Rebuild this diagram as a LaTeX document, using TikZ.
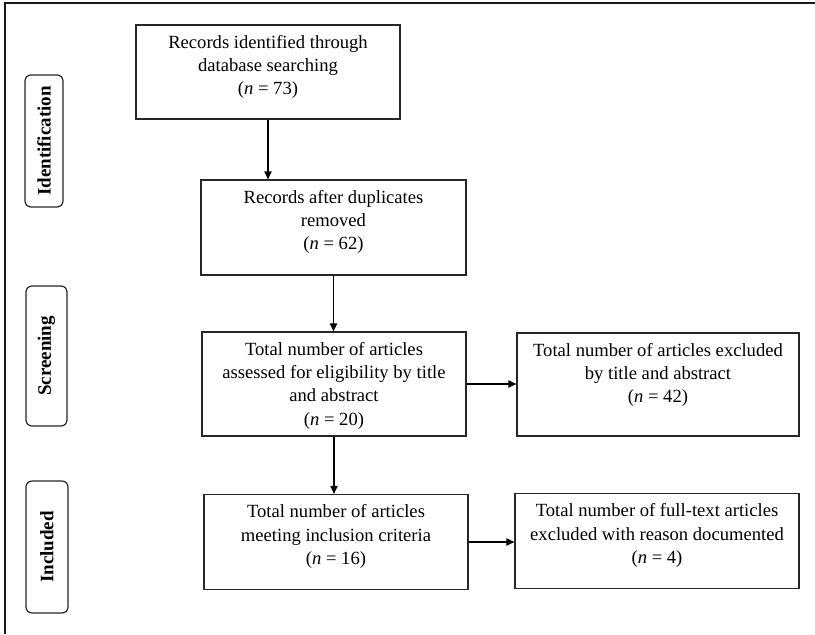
\documentclass[tikz,border=0pt]{standalone}
\usepackage{fontspec}
\setmainfont{Liberation Serif}
\usetikzlibrary{arrows.meta}
\newcommand{\boxtxt}[3]{\parbox[c][#2][t]{#1}{\centering\vspace*{5pt}#3}}
\tikzset{
  stage/.style={draw=black!85, line width=0.6pt, inner sep=0pt,
    font=\fontsize{9.3}{11.7}\selectfont},
  phase/.style={draw=black!85, line width=0.6pt, rounded corners=3pt,
    inner sep=0pt, rotate=90, font=\fontsize{9.5}{11}\selectfont\bfseries},
  flow/.style={-{Triangle[length=4pt,width=3.6pt]}, line width=0.65pt}
}
\begin{document}
\begin{tikzpicture}[x=0.5pt,y=-0.5pt]
\useasboundingbox (0,0) rectangle (815,634);
% frame
\draw[line width=0.8pt, black!90] (5,634) -- (5,3) -- (815,3);
% phases
\node[phase, minimum width=66pt, minimum height=19pt] (labId) at (44,141) {Identification};
\node[phase, minimum width=70pt, minimum height=20.5pt] (labScr) at (46.5,356) {Screening};
\node[phase, minimum width=66pt, minimum height=21pt] (labInc) at (47,547) {Included};
% boxes
\node[stage] (ident) at (268,72) {\boxtxt{132pt}{47pt}{Records identified through\\
  database searching\\ (\textit{n} = 73)}};
\node[stage] (dedup) at (333.5,227.5) {\boxtxt{132.5pt}{47.5pt}{Records after duplicates\\
  removed\\ (\textit{n} = 62)}};
\node[stage] (assessed) at (334,384) {\boxtxt{132pt}{52pt}{Total number of articles\\
  assessed for eligibility by title\\ and abstract\\ (\textit{n} = 20)}};
\node[stage] (excl1) at (658,384.5) {\boxtxt{141pt}{51.5pt}{Total number of articles excluded\\
  by title and abstract\\ (\textit{n} = 42)}};
\node[stage] (included) at (336,542) {\boxtxt{132pt}{47.5pt}{Total number of articles\\
  meeting inclusion criteria\\ (\textit{n} = 16)}};
\node[stage] (excl2) at (657,541) {\boxtxt{142pt}{47.5pt}{Total number of full-text articles\\
  excluded with reason documented\\ (\textit{n} = 4)}};
% arrows
\draw[flow] (ident.south) -- (ident.south |- dedup.north);
\draw[flow] (dedup.south) -- (dedup.south |- assessed.north);
\draw[flow] (assessed.south) -- (assessed.south |- included.north);
\draw[flow] (assessed.east) -- (assessed.east -| excl1.west);
\draw[flow] (included.east) -- (included.east -| excl2.west);
\end{tikzpicture}
\end{document}
